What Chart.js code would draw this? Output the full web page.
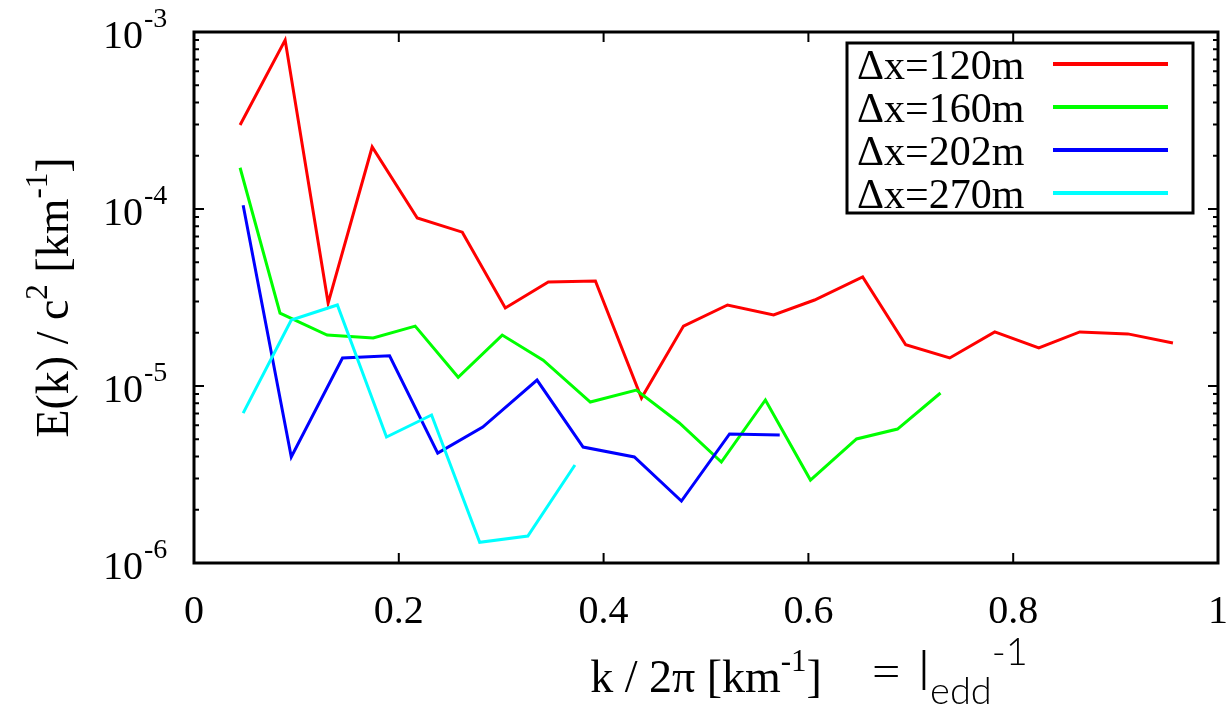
<!DOCTYPE html>
<html>
<head>
<meta charset="utf-8">
<script src="https://cdn.jsdelivr.net/npm/chart.js@4/dist/chart.umd.min.js"></script>
<style>
  html, body { margin: 0; padding: 0; background: #fff; }
  canvas { display: block; }
</style>
</head>
<body>
<canvas id="chart" width="1229" height="708"></canvas>
<script>
const seriesLabels = ['Δx=120m', 'Δx=160m', 'Δx=202m', 'Δx=270m'];
const seriesColors = ['#ff0000', '#00ff00', '#0000ff', '#00ffff'];

const k120 = [0.045, 0.089, 0.131, 0.174, 0.218, 0.262, 0.304, 0.346, 0.392, 0.437, 0.478,
              0.521, 0.566, 0.606, 0.653, 0.695, 0.738, 0.782, 0.825, 0.865, 0.912, 0.956];
const e120 = [2.98e-4, 9.0e-4, 2.94e-5, 2.24e-4, 8.9e-5, 7.4e-5, 2.76e-5, 3.87e-5, 3.92e-5, 8.55e-6, 2.18e-5,
              2.87e-5, 2.52e-5, 3.06e-5, 4.13e-5, 1.71e-5, 1.44e-5, 2.02e-5, 1.64e-5, 2.02e-5, 1.97e-5, 1.75e-5];

const k160 = [0.045, 0.084, 0.130, 0.175, 0.216, 0.258, 0.301, 0.341, 0.387, 0.432, 0.474,
              0.515, 0.558, 0.602, 0.647, 0.687, 0.729];
const e160 = [1.71e-4, 2.58e-5, 1.94e-5, 1.87e-5, 2.18e-5, 1.12e-5, 1.94e-5, 1.40e-5, 8.12e-6, 9.49e-6, 6.18e-6,
              3.72e-6, 8.34e-6, 2.94e-6, 5.02e-6, 5.71e-6, 9.13e-6];

const k202 = [0.048, 0.095, 0.145, 0.191, 0.238, 0.282, 0.335, 0.380, 0.430, 0.476, 0.523, 0.572];
const e202 = [1.05e-4, 3.97e-6, 1.44e-5, 1.48e-5, 4.18e-6, 5.86e-6, 1.08e-5, 4.52e-6, 3.97e-6, 2.24e-6, 5.36e-6, 5.29e-6];

const k270 = [0.048, 0.095, 0.140, 0.188, 0.232, 0.279, 0.326, 0.372];
const e270 = [7.03e-6, 2.36e-5, 2.87e-5, 5.15e-6, 6.86e-6, 1.31e-6, 1.42e-6, 3.58e-6];

const xTicks = [0, 0.2, 0.4, 0.6, 0.8, 1];
const xTickLabels = ['0', '0.2', '0.4', '0.6', '0.8', '1'];
const yDecades = [-6, -5, -4, -3];
const yMinorMult = [2, 3, 4, 5, 6, 7, 8, 9];

const SERIF = '"Liberation Serif"';
const THIN = 'Lato';

function pts(ks, es) {
  return ks.map((k, i) => ({ x: k, y: es[i] }));
}

function setFont(ctx, size, family, weight) {
  ctx.font = (weight ? weight + ' ' : '') + size + 'px ' + family;
}

// draws a row of text pieces, some raised (sup) or lowered (sub)
function richText(ctx, parts, x, y, size, family, weight, align) {
  const pieces = parts.map(p => {
    const s = p.sup || p.sub ? Math.round(size * 0.68) : size;
    setFont(ctx, s, family, weight);
    return { t: p.t, sup: p.sup, sub: p.sub, s: s, w: ctx.measureText(p.t).width };
  });
  const total = pieces.reduce((acc, p) => acc + p.w, 0);
  let cx = align === 'center' ? x - total / 2 : x;
  ctx.textAlign = 'left';
  pieces.forEach(p => {
    setFont(ctx, p.s, family, weight);
    const dy = p.sup ? -size * 0.45 : p.sub ? size * 0.25 : 0;
    ctx.fillText(p.t, cx, y + dy);
    cx += p.w;
  });
}

const framePlugin = {
  id: 'frame',
  afterDraw(chart) {
    const { ctx, chartArea: a, scales } = chart;
    const xs = scales.x, ys = scales.y;
    ctx.save();
    ctx.strokeStyle = '#000';
    ctx.fillStyle = '#000';

    ctx.lineWidth = 3;
    ctx.strokeRect(a.left, a.top, a.right - a.left, a.bottom - a.top);

    // inward tick marks on all four sides
    ctx.lineWidth = 2;
    ctx.beginPath();
    xTicks.forEach(v => {
      const px = xs.getPixelForValue(v);
      ctx.moveTo(px, a.bottom); ctx.lineTo(px, a.bottom - 10);
      ctx.moveTo(px, a.top); ctx.lineTo(px, a.top + 10);
    });
    yDecades.forEach(e => {
      const py = ys.getPixelForValue(Math.pow(10, e));
      ctx.moveTo(a.left, py); ctx.lineTo(a.left + 10, py);
      ctx.moveTo(a.right, py); ctx.lineTo(a.right - 10, py);
      if (e < -3) {
        yMinorMult.forEach(m => {
          const pm = ys.getPixelForValue(m * Math.pow(10, e));
          ctx.moveTo(a.left, pm); ctx.lineTo(a.left + 5, pm);
          ctx.moveTo(a.right, pm); ctx.lineTo(a.right - 5, pm);
        });
      }
    });
    ctx.stroke();

    // tick labels
    ctx.textBaseline = 'alphabetic';
    ctx.textAlign = 'center';
    setFont(ctx, 40, SERIF);
    xTicks.forEach((v, i) => {
      ctx.fillText(xTickLabels[i], xs.getPixelForValue(v), a.bottom + 60);
    });
    yDecades.forEach(e => {
      const py = ys.getPixelForValue(Math.pow(10, e));
      ctx.textAlign = 'right';
      setFont(ctx, 40, SERIF);
      ctx.fillText('10', 143, py + 16);
      ctx.textAlign = 'left';
      setFont(ctx, 28, SERIF);
      ctx.fillText(String(e), 144, py - 5);
    });

    // axis titles
    richText(ctx, [{ t: 'k / 2π [km' }, { t: '-1', sup: true }, { t: ']' }],
      (a.left + a.right) / 2, 692, 46, SERIF, '', 'center');
    richText(ctx, [{ t: '= l' }, { t: 'edd', sub: true }, { t: '-1', sup: true }],
      870, 690, 56, THIN, '300', 'left');

    ctx.save();
    ctx.translate(68, (a.top + a.bottom) / 2);
    ctx.rotate(-Math.PI / 2);
    richText(ctx, [{ t: 'E(k) / c' }, { t: '2', sup: true }, { t: ' [km' }, { t: '-1', sup: true }, { t: ']' }],
      0, 0, 46, SERIF, '', 'center');
    ctx.restore();

    // legend box
    ctx.fillStyle = '#fff';
    ctx.fillRect(847, 43, 346, 170);
    ctx.lineWidth = 3;
    ctx.strokeStyle = '#000';
    ctx.strokeRect(847, 43, 346, 170);
    chart.data.datasets.forEach((ds, i) => {
      const ry = 64 + i * 43;
      ctx.fillStyle = '#000';
      ctx.textAlign = 'left';
      setFont(ctx, 42, SERIF);
      ctx.fillText(ds.label, 857, ry + 15);
      ctx.strokeStyle = ds.borderColor;
      ctx.lineWidth = 4;
      ctx.beginPath();
      ctx.moveTo(1053, ry);
      ctx.lineTo(1168, ry);
      ctx.stroke();
    });
    ctx.restore();
  }
};

const datasets = [[k120, e120], [k160, e160], [k202, e202], [k270, e270]].map((d, i) => ({
  label: seriesLabels[i],
  data: pts(d[0], d[1]),
  borderColor: seriesColors[i],
  backgroundColor: seriesColors[i],
  borderWidth: 3,
  pointRadius: 0,
  tension: 0,
  fill: false,
  order: 4 - i,
}));

new Chart(document.getElementById('chart').getContext('2d'), {
  type: 'line',
  data: { datasets },
  options: {
    responsive: false,
    animation: false,
    layout: { padding: { left: 194, right: 11, top: 32, bottom: 145 } },
    plugins: { legend: { display: false }, tooltip: { enabled: false } },
    scales: {
      x: { type: 'linear', min: 0, max: 1, display: false },
      y: { type: 'logarithmic', min: 1e-6, max: 1e-3, display: false },
    },
  },
  plugins: [framePlugin],
});
</script>
</body>
</html>
